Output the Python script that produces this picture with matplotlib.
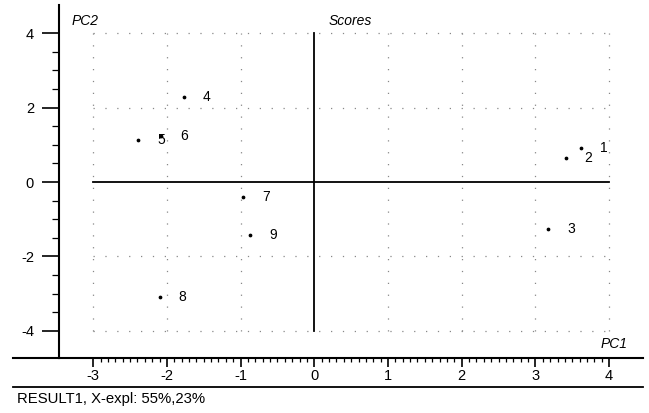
import matplotlib
matplotlib.use("Agg")
import matplotlib.pyplot as plt
from matplotlib.lines import Line2D
import numpy as np

plt.rcParams['font.family'] = ['Liberation Sans', 'DejaVu Sans']
plt.rcParams['axes.unicode_minus'] = False

# Data
samples = ['1', '2', '3', '4', '5', '6', '7', '8', '9']
pc1 = [3.62, 3.41, 3.17, -1.77, -2.39, -2.08, -0.97, -2.10, -0.87]
pc2 = [0.92, 0.64, -1.27, 2.28, 1.13, 1.24, -0.40, -3.08, -1.42]
x_ticks = [-3, -2, -1, 0, 1, 2, 3, 4]
y_ticks = [-4, -2, 0, 2, 4]
title = 'Scores'
x_label = 'PC1'
y_label = 'PC2'
footer = 'RESULT1, X-expl: 55%,23%'

W, H = 649, 413
fig = plt.figure(figsize=(W / 100, H / 100), dpi=100)

def fx(px):
    return px / W

def fy(py):
    return (H - py) / H

ax_l, ax_r, ax_t, ax_b = 59, 643, 5, 357.5
ax = fig.add_axes([fx(ax_l), fy(ax_b), fx(ax_r) - fx(ax_l), fy(ax_t) - fy(ax_b)])

x0, sx = 314.3, 73.7
y0, sy = 182.0, 37.2
ax.set_xlim((ax_l - x0) / sx, (ax_r - x0) / sx)
ax.set_ylim((y0 - ax_b) / sy, (y0 - ax_t) / sy)

for s in ['top', 'right']:
    ax.spines[s].set_visible(False)
ax.spines['left'].set_linewidth(1.5)
ax.spines['bottom'].set_linewidth(1.5)

# grid (dotted)
gx0, gx1 = x_ticks[0], x_ticks[-1]
gy0, gy1 = y_ticks[0], y_ticks[-1]
dot = dict(color='#888888', lw=0.9, linestyle=(0, (1, 8.5)))
for xv in x_ticks:
    if xv != 0:
        ax.plot([xv, xv], [gy0, gy1], **dot)
for yv in y_ticks:
    if yv != 0:
        ax.plot([gx0, gx1], [yv, yv], **dot)
# zero axes
ax.plot([0, 0], [gy0, gy1], color='black', lw=1.3)
ax.plot([gx0, gx1], [0, 0], color='black', lw=1.3)

# points
ax.plot(pc1, pc2, 'o', color='black', markersize=1.7, linestyle='none')
for lab, xv, yv in zip(samples, pc1, pc2):
    ax.annotate(lab, (xv, yv), xytext=(16.5, 0), textcoords='offset points',
                ha='center', va='center', fontsize=10)

# ticks
ax.set_xticks(x_ticks)
ax.set_yticks(y_ticks)
ax.set_xticks(np.arange(gx0, gx1 + 0.01, 0.1), minor=True)
ax.set_yticks(np.arange(gy0, gy1 + 0.01, 0.5), minor=True)
ax.tick_params(axis='x', which='major', direction='out', length=6.5, width=1.2,
               labelsize=10.5, pad=2)
ax.tick_params(axis='x', which='minor', direction='out', length=3, width=0.9)
ax.tick_params(axis='y', which='major', direction='out', length=12, width=1.2,
               labelsize=10.5, pad=6)
ax.tick_params(axis='y', which='minor', direction='out', length=5, width=0.9)

# extra lines
fig.add_artist(Line2D([fx(13), fx(ax_l)], [fy(ax_b), fy(ax_b)], color='black', lw=1.5))
fig.add_artist(Line2D([fx(13), fx(643)], [fy(387), fy(387)], color='black', lw=1.3))

# texts
fig.text(fx(72), fy(21), y_label, fontsize=10, style='italic', ha='left', va='center')
fig.text(fx(329), fy(21), title, fontsize=10, style='italic', ha='left', va='center')
fig.text(fx(601), fy(344), x_label, fontsize=10, style='italic', ha='left', va='center')
fig.text(fx(17), fy(399), footer, fontsize=10.7, ha='left', va='center')

fig.savefig('out.png', dpi=100)
